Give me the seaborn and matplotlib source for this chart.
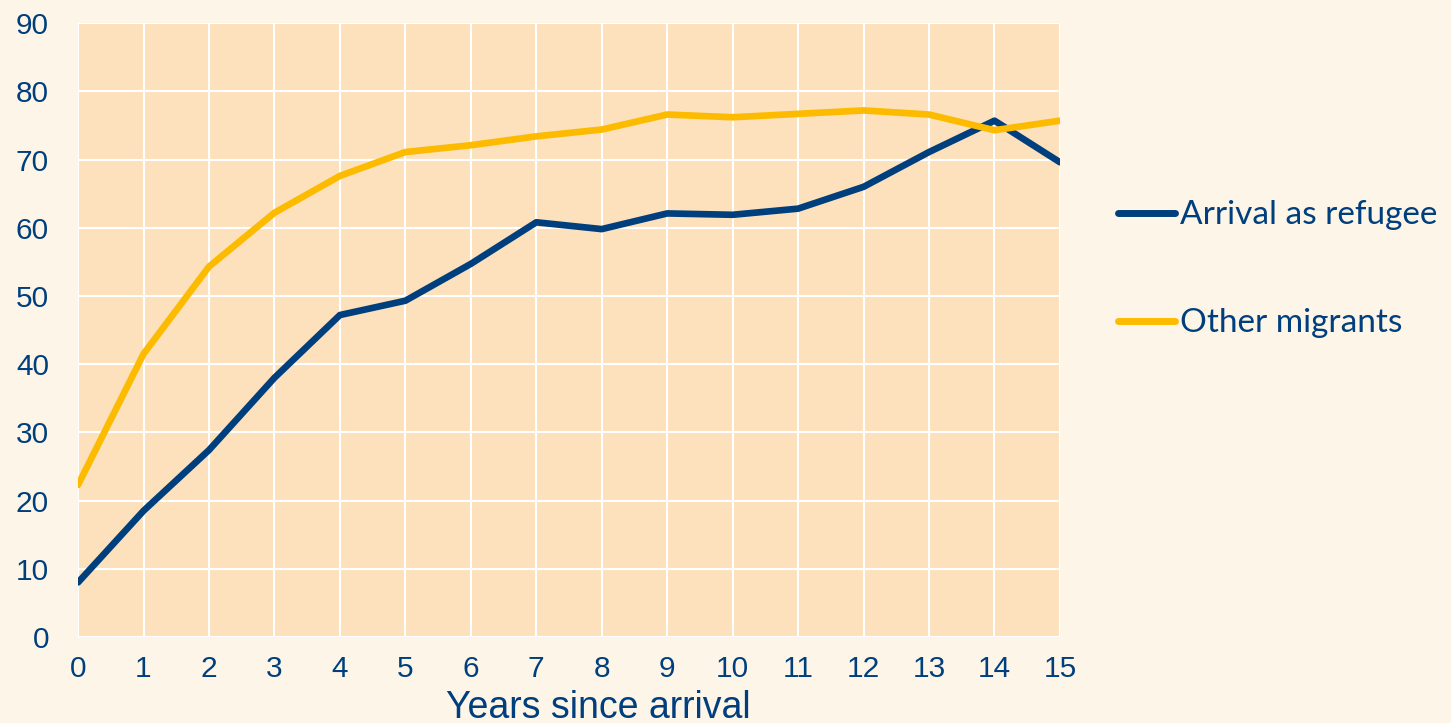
import pandas as pd
import matplotlib
matplotlib.use("Agg")
import matplotlib.pyplot as plt
import seaborn as sns

years = list(range(16))
refugee = [8.0, 18.5, 27.4, 38.0, 47.2, 49.3, 54.7, 60.8, 59.8, 62.1, 61.9, 62.8, 66.0, 71.1, 75.7, 69.6]
other = [22.3, 41.5, 54.3, 62.2, 67.6, 71.1, 72.1, 73.4, 74.4, 76.6, 76.2, 76.7, 77.2, 76.6, 74.3, 75.7]
series_names = ["Arrival as refugee", "Other migrants"]

df = pd.DataFrame({
    "year": years * 2,
    "value": refugee + other,
    "series": [series_names[0]] * 16 + [series_names[1]] * 16,
})

blue = "#003F7D"
yellow = "#FDBB00"
text_col = "#003F7D"

sns.set_style("whitegrid")
plt.rcParams["font.family"] = ["Liberation Sans", "DejaVu Sans"]

fig = plt.figure(figsize=(14.51, 7.23), dpi=100, facecolor="#FEF5E9")
ax = fig.add_axes([0.0538, 0.119, 0.6767, 0.849])
ax.set_facecolor("#FCE1BC")

sns.lineplot(data=df, x="year", y="value", hue="series",
             palette=[blue, yellow], linewidth=4.8, ax=ax)

ax.set_xlim(0, 15)
ax.set_ylim(0, 90)
ax.set_xticks(years)
ax.set_yticks(range(0, 91, 10))
ax.grid(True, color="white", linewidth=1.5)
for s in ax.spines.values():
    s.set_visible(False)
ax.tick_params(length=0, labelsize=21.5, labelcolor=text_col)
ax.tick_params(axis="x", pad=13)
ax.tick_params(axis="y", pad=21)
ax.set_xlabel("Years since arrival", fontsize=27, color=text_col)
ax.xaxis.set_label_coords(0.53, -0.132, transform=ax.transAxes)
ax.xaxis.label.set_va("baseline")
ax.set_ylabel("")

handles, labels = ax.get_legend_handles_labels()
leg = ax.legend(handles, labels, loc="center left", bbox_to_anchor=(1.029, 0.599),
                frameon=False, handlelength=1.7, handletextpad=0.15,
                labelspacing=2.34, prop={"family": "Lato", "size": 24})
for t in leg.get_texts():
    t.set_color(text_col)
for l in leg.get_lines():
    l.set_linewidth(5)
    l.set_solid_capstyle("round")

fig.savefig("out.png", dpi=100, facecolor=fig.get_facecolor())
